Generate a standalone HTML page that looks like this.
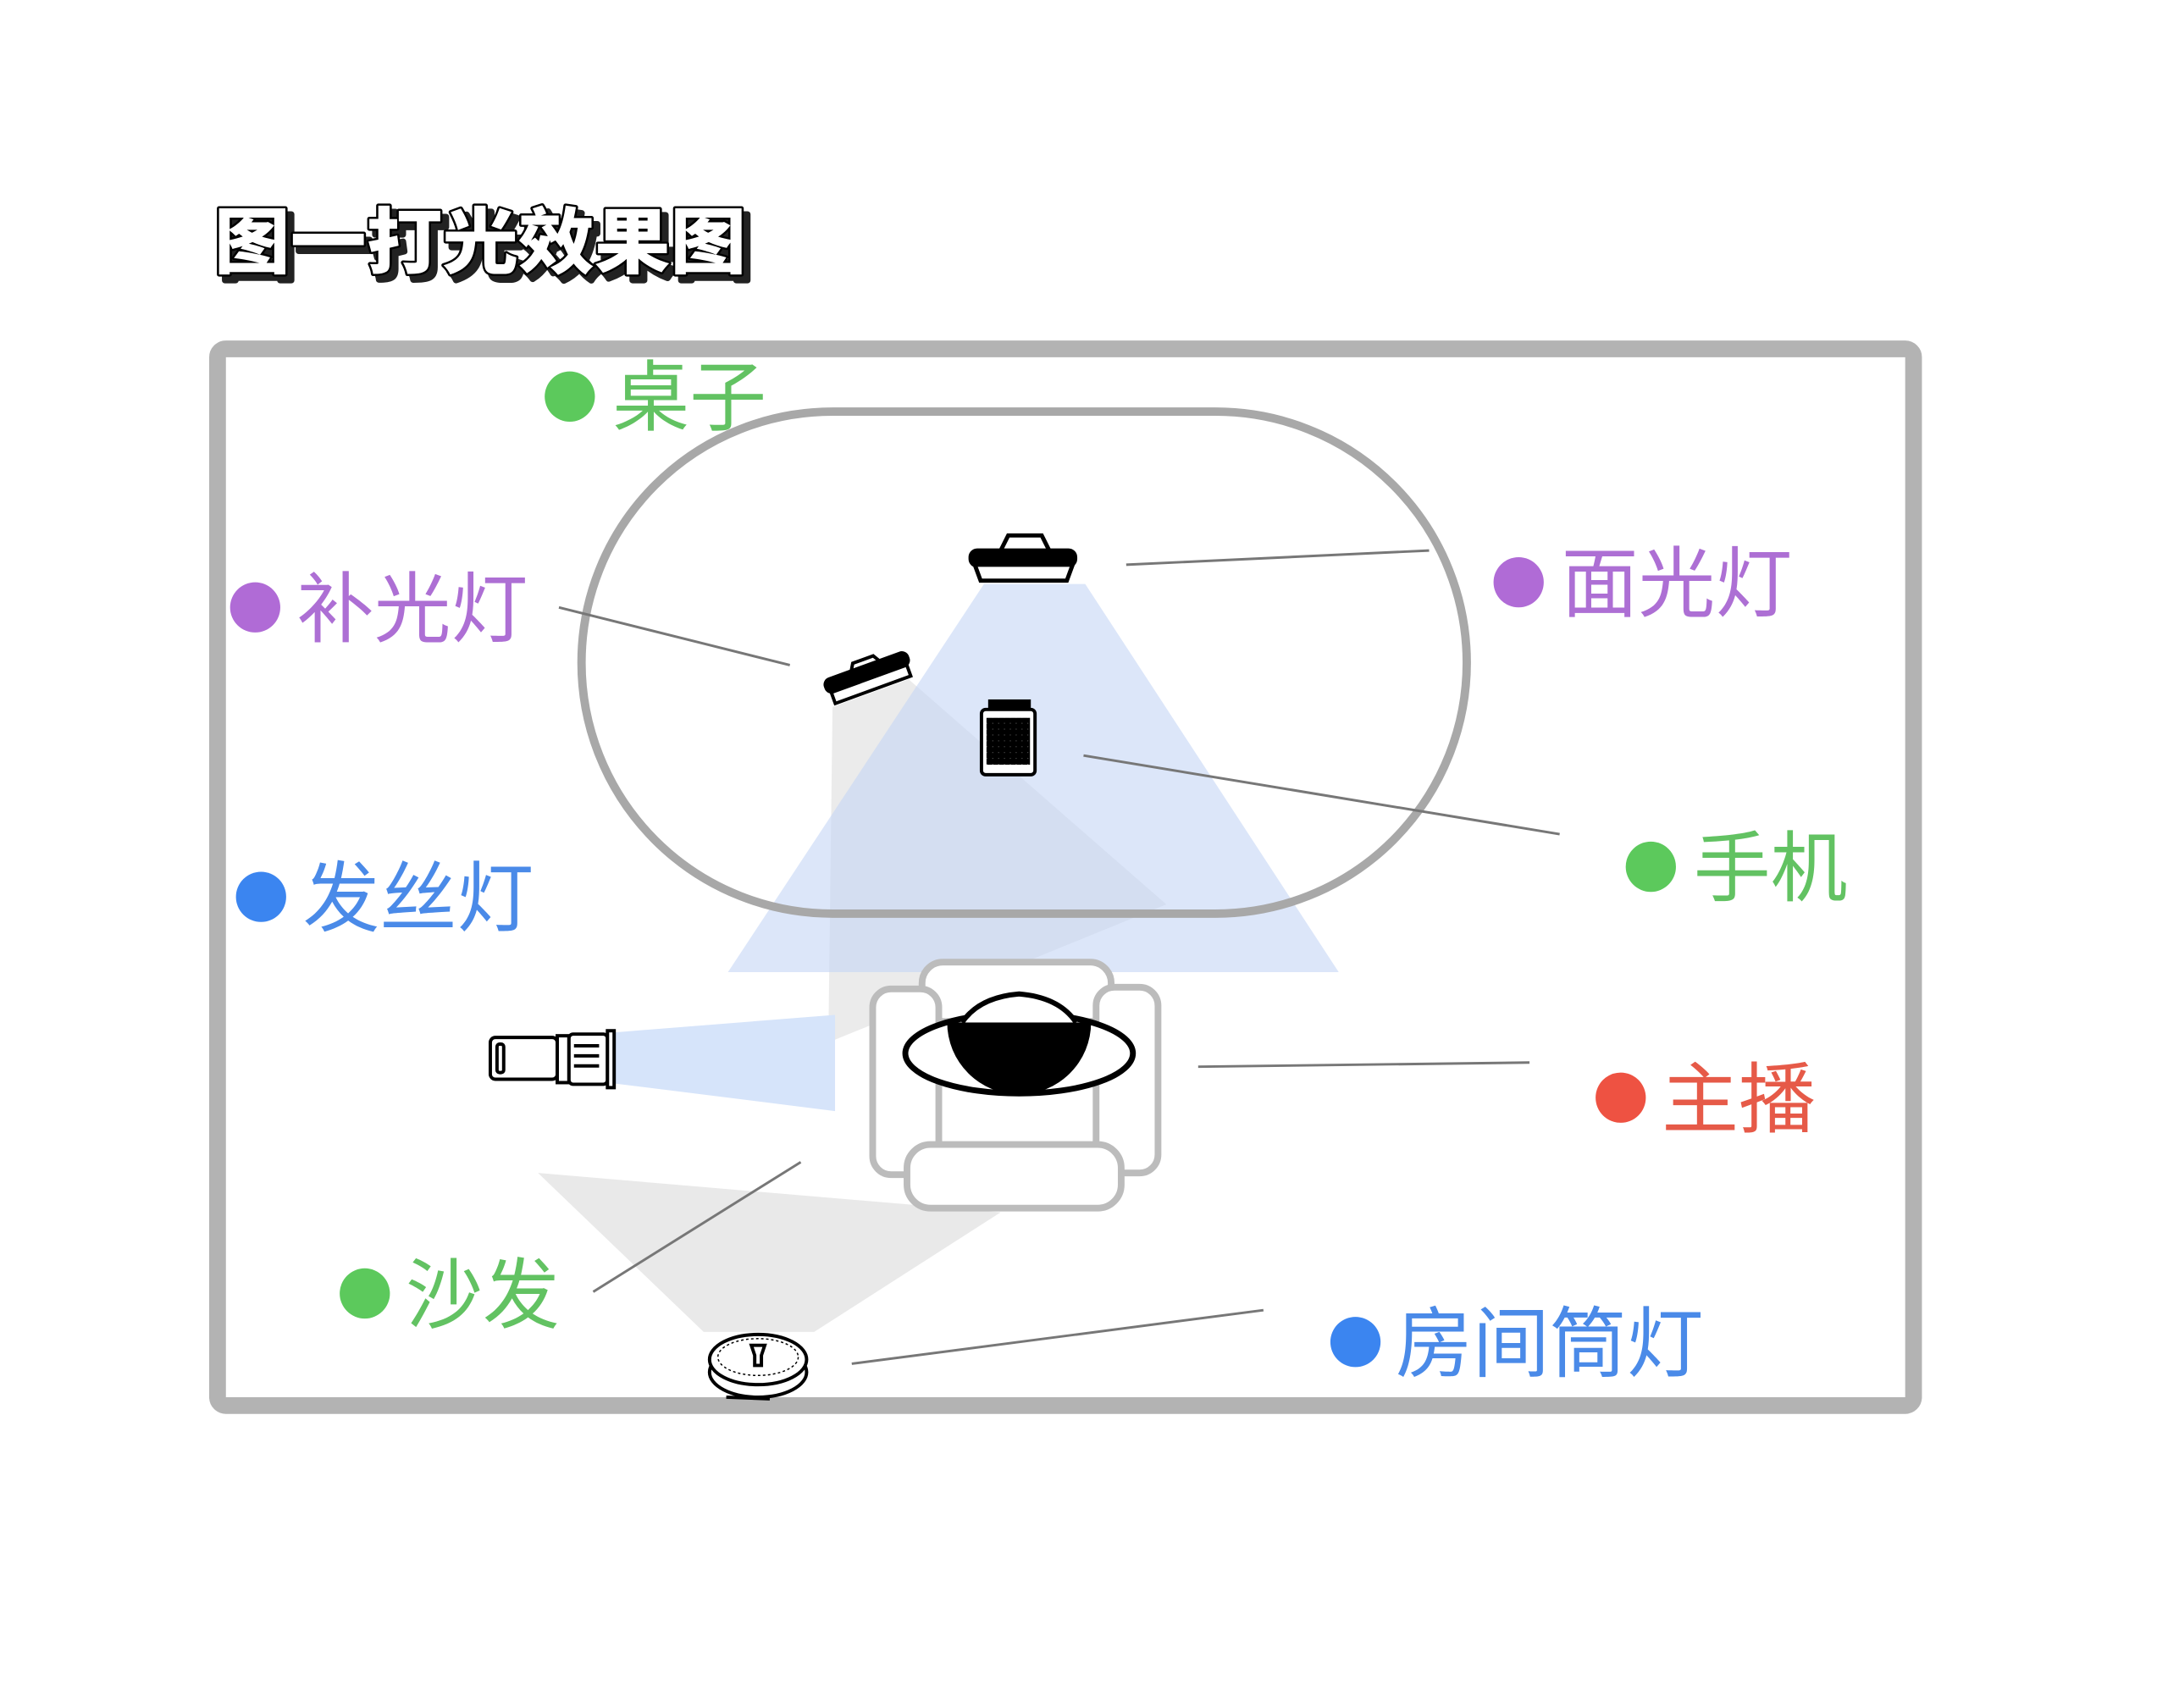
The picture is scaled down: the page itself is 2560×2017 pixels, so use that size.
<!DOCTYPE html>
<html><head><meta charset="utf-8"><style>
html,body{margin:0;padding:0;background:#fff;}
svg{display:block}
text{font-family:"Liberation Sans","Noto Sans CJK SC",sans-serif;}
</style></head><body>
<svg width="2560" height="2017" viewBox="0 0 2560 2017" xmlns="http://www.w3.org/2000/svg">
<g transform="scale(0.988)">
<!-- title -->
<text x="263" y="327" font-size="86" font-weight="900" fill="#222" stroke="#222" stroke-width="7" stroke-linejoin="round" textLength="636" lengthAdjust="spacingAndGlyphs">图一打光效果图</text>
<text x="256" y="320" font-size="86" font-weight="900" fill="#fff" stroke="#000" stroke-width="5" stroke-linejoin="round" textLength="636" lengthAdjust="spacingAndGlyphs" paint-order="stroke">图一打光效果图</text>

<!-- light beams -->
<polygon points="643,1402 1196,1449 973,1592 841,1592" fill="#e9e9e9"/>
<polygon points="995,845 1086,812 1394,1081 990,1246" fill="#e6e6e6" opacity="0.8"/>
<polygon points="1176,698 1297,698 1600,1162 870,1162" fill="#c4d6f5" opacity="0.6"/>
<polygon points="734,1234 734,1295 998,1328 998,1213" fill="#d6e4fa"/>

<!-- table -->
<rect x="695" y="492" width="1058" height="600" rx="300" ry="300" fill="none" stroke="#a8a8a8" stroke-width="10"/>

<!-- frame -->
<rect x="260" y="417" width="2027" height="1263" rx="10" fill="none" stroke="#b3b3b3" stroke-width="20"/>

<!-- leader lines -->
<g stroke="#777" stroke-width="3">
<line x1="668" y1="726" x2="944" y2="795"/>
<line x1="1346" y1="675" x2="1708" y2="658"/>
<line x1="1295" y1="903" x2="1864" y2="997"/>
<line x1="1432" y1="1275" x2="1828" y2="1270"/>
<line x1="709" y1="1544" x2="957" y2="1389"/>
<line x1="1018" y1="1630" x2="1510" y2="1566"/>
</g>

<!-- chair -->
<g fill="#fff" stroke="#bcbcbc" stroke-width="8">
<rect x="1102" y="1150" width="226" height="71" rx="25"/>
<rect x="1043" y="1182" width="79" height="222" rx="22"/>
<rect x="1310" y="1180" width="74" height="222" rx="22"/>
<rect x="1084" y="1368" width="256" height="76" rx="28"/>
</g>

<!-- person -->
<ellipse cx="1218" cy="1259" rx="136" ry="48" fill="#fff" stroke="#000" stroke-width="7"/>
<path d="M1132,1222 A86,86 0 1 0 1304,1222 Z" fill="#000"/>
<path d="M1150,1222 Q1170,1192 1218,1188 Q1266,1192 1286,1222" fill="#fff" stroke="#000" stroke-width="6"/>

<!-- top lamp -->
<g stroke="#000" stroke-width="5" fill="#fff">
<path d="M1195,660 L1205,640 L1245,640 L1255,660" fill="none"/>
<rect x="1160" y="658" width="125" height="18" rx="8" fill="#000"/>
<path d="M1165,675 L1172,694 L1275,694 L1282,675 Z"/>
</g>
<!-- fill lamp -->
<g transform="translate(1040,815) rotate(-20)" stroke="#000" stroke-width="4" fill="#fff">
<path d="M-18,-18 L-12,-28 L14,-28 L20,-18" fill="none"/>
<rect x="-52" y="-20" width="104" height="16" rx="7" fill="#000"/>
<rect x="-48" y="-4" width="96" height="14"/>
</g>
<!-- phone -->
<g stroke="#000" stroke-width="4">
<rect x="1183" y="838" width="47" height="12" fill="#000"/>
<rect x="1173" y="848" width="64" height="78" rx="5" fill="#fff"/>
<pattern id="kb" width="7" height="7" patternUnits="userSpaceOnUse"><rect width="7" height="7" fill="#000"/><circle cx="3.5" cy="3.5" r="2.4" fill="#fff"/></pattern>
<rect x="1179" y="858" width="52" height="56" fill="url(#kb)" stroke="none"/>
</g>
<!-- hair light -->
<g stroke="#000" stroke-width="4" fill="#fff">
<rect x="586" y="1240" width="80" height="50" rx="6"/>
<rect x="594" y="1248" width="8" height="34" rx="3"/>
<rect x="666" y="1238" width="14" height="56"/>
<rect x="680" y="1236" width="46" height="60" rx="5"/>
<line x1="686" y1="1250" x2="716" y2="1250"/><line x1="686" y1="1262" x2="716" y2="1262"/><line x1="686" y1="1274" x2="716" y2="1274"/>
<rect x="726" y="1232" width="8" height="68"/>
</g>
<!-- down light -->
<g stroke="#000" stroke-width="4" fill="#fff">
<ellipse cx="906" cy="1640" rx="58" ry="30"/>
<ellipse cx="906" cy="1625" rx="58" ry="30"/>
<ellipse cx="906" cy="1622" rx="48" ry="22" fill="none" stroke-width="1.5" stroke-dasharray="3 3"/>
<path d="M898,1608 L914,1608 L910,1620 L910,1632 L902,1632 L902,1620 Z" fill="#fff"/>
<line x1="868" y1="1670" x2="920" y2="1672"/>
</g>

<!-- labels -->
<g font-size="92">
<circle cx="681" cy="474" r="30" fill="#5cc95c"/><text x="732" y="507" fill="#62c262">桌子</text>
<circle cx="305" cy="726" r="30" fill="#b06bd6"/><text x="355" y="760" fill="#ad6fd4">补光灯</text>
<circle cx="1815" cy="696" r="30" fill="#b06bd6"/><text x="1866" y="730" fill="#ad6fd4">面光灯</text>
<circle cx="312" cy="1072" r="30" fill="#3b85f0"/><text x="362" y="1106" fill="#4a8ae8">发丝灯</text>
<circle cx="1973" cy="1036" r="30" fill="#5cc95c"/><text x="2024" y="1070" fill="#62c262">手机</text>
<circle cx="1937" cy="1312" r="30" fill="#ee5242"/><text x="1986" y="1346" fill="#e65a48">主播</text>
<circle cx="436" cy="1546" r="30" fill="#5cc95c"/><text x="485" y="1580" fill="#62c262">沙发</text>
<circle cx="1620" cy="1604" r="30" fill="#3b85f0"/><text x="1668" y="1638" fill="#4a8ae8">房间筒灯</text>
</g>
</g>
</svg>
</body></html>
